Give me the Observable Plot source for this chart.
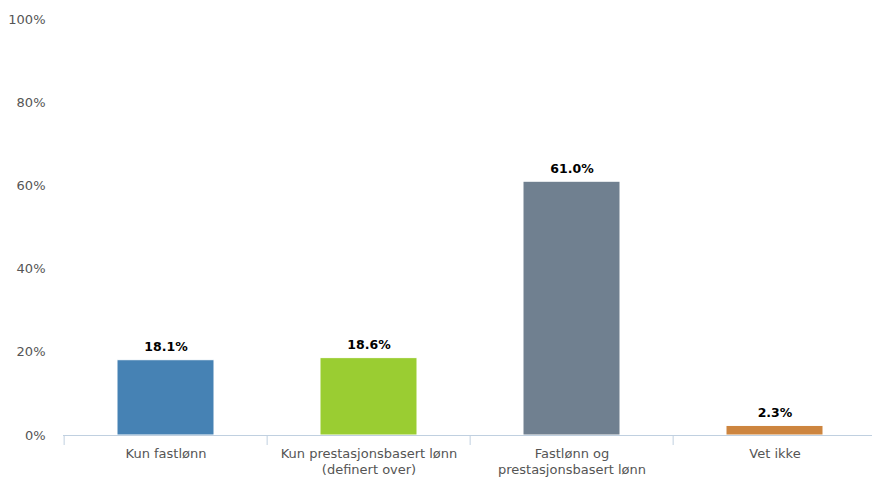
<!DOCTYPE html>
<html>
<head>
<meta charset="utf-8">
<script src="https://cdn.jsdelivr.net/npm/d3@7"></script>
<script src="https://cdn.jsdelivr.net/npm/@observablehq/plot@0.6"></script>
<style>
  html, body { margin: 0; padding: 0; background: #fff; }
  #chart svg { display: block; font-family: "DejaVu Sans", sans-serif; }
</style>
</head>
<body>
<div id="chart"></div>
<script>
const categories = ["Kun fastlønn", "Kun prestasjonsbasert lønn (definert over)", "Fastlønn og prestasjonsbasert lønn", "Vet ikke"];
const categoryLabels = ["Kun fastlønn", "Kun prestasjonsbasert lønn\n(definert over)", "Fastlønn og\nprestasjonsbasert lønn", "Vet ikke"];
const values = [18.1, 18.6, 61.0, 2.3];
const colors = ["#4682B4", "#9ACD32", "#708090", "#CD853F"];
const yTicks = [0, 20, 40, 60, 80, 100];

const data = categories.map((c, i) => ({cat: c, value: values[i], color: colors[i]}));

const W = 872, H = 477;
const x0 = 63, x1 = 878;
const step = (x1 - x0) / categories.length;

const chart = Plot.plot({
  width: W,
  height: H,
  marginTop: 19,
  marginBottom: 42,
  marginLeft: 63,
  marginRight: 0,
  style: {fontFamily: "DejaVu Sans, sans-serif", fontSize: "13px", color: "#555", background: "#fff"},
  x: {domain: categories, range: [x0, x1], paddingInner: 0.52, paddingOuter: 0.26, label: null},
  y: {domain: [0, 100], label: null},
  marks: [
    Plot.ruleY(yTicks, {y: d => d, x1: x0, x2: W, stroke: "#DDDDDD", strokeWidth: 1}),
    Plot.barY(data, {x: "cat", y: "value", fill: "color", stroke: "#fff", strokeWidth: 1}),
    Plot.ruleY([0], {stroke: "#C0D0E0", strokeWidth: 1}),
    Plot.ruleX(categories, {x: d => d, dx: -step / 2, y1: 0, y2: 0, insetBottom: -10, stroke: "#C0D0E0", strokeWidth: 1}),
    Plot.text(data, {x: "cat", y: "value", text: d => d.value.toFixed(1) + "%", dy: -13, fontWeight: "bold", fill: "#000", fontSize: 12.5}),
    Plot.axisY({ticks: yTicks, tickFormat: d => d + "%", tickSize: 0, tickPadding: 18, fill: "#555", fontSize: 13}),
    Plot.axisX({tickSize: 0, tickPadding: 12, tickFormat: d => categoryLabels[categories.indexOf(d)], fill: "#555", fontSize: 13, lineHeight: 1.17})
  ]
});
document.getElementById("chart").appendChild(chart);
</script>
</body>
</html>
